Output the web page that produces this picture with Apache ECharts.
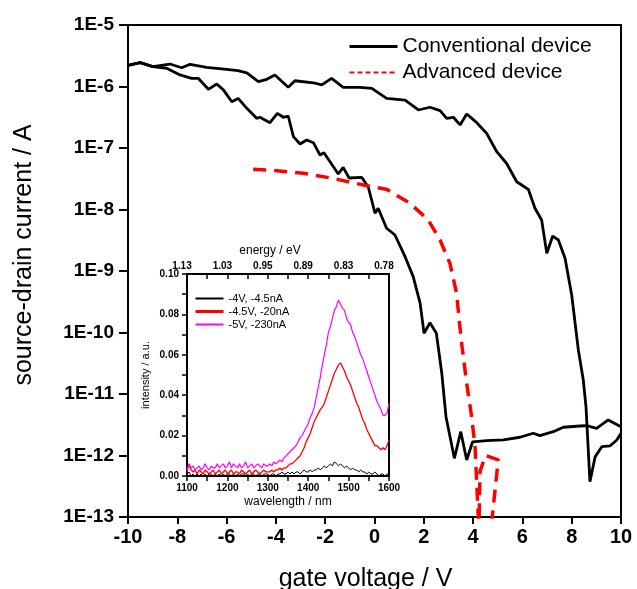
<!DOCTYPE html>
<html><head><meta charset="utf-8">
<script src="https://cdn.jsdelivr.net/npm/echarts@6/dist/echarts.min.js"></script>
<style>html,body{margin:0;padding:0;background:#fff}#c{width:637px;height:589px}</style>
</head><body><div id="c"></div>
<script>
// ---------- main plot: transfer curves ----------
const convRightV = [-10,-9.51,-8.99,-8.30,-7.82,-7.48,-6.81,-6.0,-5.54,-5.18,-4.71,-4.37,-4.04,-3.50,-3.23,-2.48,-2.14,-1.74,-1.27,-0.59,-0.11,0.49,1.24,1.78,2.25,2.66,2.93,3.20,3.47,3.74,4.15,4.55,4.96,5.36,5.77,6.24,6.51,6.78,6.99,7.23,7.46,7.73,8.0,8.27,8.47,8.58,8.74,8.95,9.22,9.55,9.83,10];
const convRightI = [2.2e-6,2.44e-6,2.1e-6,2.32e-6,2.02e-6,2.3e-6,2.05e-6,1.9e-6,1.81e-6,1.67e-6,1.2e-6,1.31e-6,1.54e-6,9.7e-7,1.24e-6,1.15e-6,1.06e-6,1.36e-6,9.7e-7,9.7e-7,9.35e-7,6.4e-7,6.0e-7,4.15e-7,4.6e-7,4.05e-7,3.04e-7,3.16e-7,2.37e-7,3.57e-7,2.58e-7,1.73e-7,8.7e-8,5.6e-8,2.83e-8,2.13e-8,1.05e-8,6.75e-9,1.94e-9,3.7e-9,3.19e-9,1.61e-9,4.07e-10,5.2e-11,1.69e-11,6.2e-12,3.75e-13,9.5e-13,1.39e-12,1.43e-12,1.79e-12,2.29e-12];
const convLeftV = [-10,-9.51,-8.99,-8.43,-7.89,-7.42,-7.15,-6.74,-6.40,-6.13,-5.79,-5.53,-5.18,-4.78,-4.65,-4.24,-3.94,-3.70,-3.50,-3.29,-3.02,-2.75,-2.48,-2.21,-2.05,-1.47,-1.27,-1.03,-0.52,-0.25,0.02,0.15,0.49,0.83,1.24,1.57,1.85,2.01,2.25,2.51,2.73,2.90,3.24,3.50,3.74,3.98,4.55,5.23,5.90,6.44,6.71,7.25,7.66,8.34,8.61,9.01,9.48,10];
const convLeftI = [2.2e-6,2.44e-6,2.1e-6,1.98e-6,1.54e-6,1.36e-6,1.36e-6,9.0e-7,1.1e-6,8.8e-7,5.66e-7,6.4e-7,4.42e-7,3.04e-7,3.16e-7,2.58e-7,3.66e-7,3.16e-7,3.31e-7,1.53e-7,1.16e-7,1.35e-7,1.22e-7,7.7e-8,8.4e-8,3.78e-8,4.85e-8,3.25e-8,3.34e-8,2.3e-8,8.7e-9,1.05e-8,4.95e-9,3.85e-9,1.71e-9,8.1e-10,3.0e-10,9.7e-11,1.44e-10,9.7e-11,2.17e-11,4.28e-12,9.0e-13,2.44e-12,8.45e-13,1.67e-12,1.74e-12,1.79e-12,1.98e-12,2.3e-12,2.1e-12,2.44e-12,2.88e-12,3.02e-12,3.05e-12,2.77e-12,3.78e-12,2.94e-12];
const advV = [-4.92,-3.97,-2.89,-1.67,-0.45,0.49,1.44,2.18,2.66,3.06,3.33,3.45,3.55,3.74,3.94,4.08,4.20,4.24,4.28,4.50,5.02,4.75,4.70];
const advI = [4.5e-8,4.27e-8,3.88e-8,3.2e-8,2.5e-8,2.13e-8,1.26e-8,6.75e-9,3.19e-9,1.33e-9,4.34e-10,1.4e-10,6e-11,1.49e-11,4.28e-12,1.39e-12,1.2e-13,8e-14,5.5e-13,1.0e-12,8.5e-13,8e-14,1e-14];
const xTicks = [-10,-8,-6,-4,-2,0,2,4,6,8,10];

// ---------- inset: EL spectra ----------
const wavelength = [1100,1105,1110,1115,1120,1125,1130,1135,1140,1145,1150,1155,1160,1165,1170,1175,1180,1185,1190,1195,1200,1205,1210,1215,1220,1225,1230,1235,1240,1245,1250,1255,1260,1265,1270,1275,1280,1285,1290,1295,1300,1305,1310,1315,1320,1325,1330,1335,1340,1345,1350,1355,1360,1365,1370,1375,1380,1385,1390,1395,1400,1405,1410,1415,1420,1425,1430,1435,1440,1445,1450,1455,1460,1465,1470,1475,1480,1485,1490,1495,1500,1505,1510,1515,1520,1525,1530,1535,1540,1545,1550,1555,1560,1565,1570,1575,1580,1585,1590,1595,1600];
const int4V = [.001,.002,0,.001,0,.001,0,.001,0,.001, 0,.001,.001,0,.001,0,.001,0,.001,0, .001,.001,0,.001,0,.001,0,.001,.001,0, .001,0,.001,.001,0,.001,.001,0,.001,.001,
  .001,0,.001,.001,0,.001,.001,.002,.001,.001, .002,.001,.002,.001,.002,.002,.001,.002,.003,.002,
  .002,.003,.002,.003,.003,.004,.003,.004,.005,.004, .005,.006,.005,.007,.006,.005,.006,.005,.004,.005,
  .004,.003,.004,.003,.003,.002,.003,.002,.002,.001, .002,.001,.001,.002,.001,0,.001,.001,0,.001, .001];
const int45V = [.002,.006,.003,.002,.003,.001,.003,.002,.001,.003, .002,.001,.002,.003,.001,.002,.003,.001,.002,.003, .001,.002,.003,.001,.002,.002,.001,.003,.002,.001, .002,.003,.001,.002,.003,.002,.001,.002,.003,.002,
  .002,.002,.003,.002,.003,.003,.004,.003,.004,.004, .005,.006,.006,.007,.008,.009,.010,.012,.014,.017,
  .019,.021,.024,.027,.029,.031,.033,.034,.036,.039, .042,.045,.048,.051,.053,.055,.056,.054,.052,.049,
  .047,.045,.042,.039,.036,.034,.031,.028,.026,.023, .021,.019,.017,.015,.015,.014,.013,.014,.013,.015, .018];
const int5V = [.003,.006,.004,.005,.003,.004,.005,.003,.004,.006, .004,.003,.005,.004,.004,.006,.004,.005,.006,.004, .005,.007,.004,.006,.005,.004,.006,.004,.005,.007, .004,.005,.006,.004,.005,.006,.005,.004,.006,.005,
  .005,.006,.005,.007,.006,.007,.008,.007,.009,.010, .011,.012,.013,.014,.015,.017,.019,.020,.022,.024,
  .026,.029,.031,.034,.039,.044,.049,.055,.060,.065, .071,.074,.078,.082,.084,.087,.085,.083,.082,.078,
  .076,.075,.071,.069,.066,.063,.060,.058,.055,.052, .049,.046,.043,.040,.037,.035,.033,.030,.030,.031, .036];
const energyLabels = ['1.13','1.03','0.95','0.89','0.83','0.78'];
const insetNames = ['-4V, -4.5nA','-4.5V, -20nA','-5V, -230nA'];

const F = 'Arial, "Liberation Sans", sans-serif';
const pairs = (xs, ys) => xs.map((x, i) => [x, ys[i]]);
const chart = echarts.init(document.getElementById('c'));

chart.setOption({
  animation: false,
  backgroundColor: '#fff',
  grid: [
    {left: 128, top: 25, width: 493, height: 492, show: true, borderColor: '#000', borderWidth: 2,
     containLabel: false, outerBoundsMode: 'none'},
    {left: 187, top: 274, width: 202, height: 202, show: true, borderColor: '#000', borderWidth: 2,
     containLabel: false, outerBoundsMode: 'none'}
  ],
  legend: [
    {data: [{name: 'Conventional device', lineStyle: {width: 3}},
            {name: 'Advanced device', lineStyle: {width: 2, type: [5, 3]}}],
     orient: 'vertical', left: 343, top: 31, itemWidth: 48, itemHeight: 14, itemGap: 5,
     itemStyle: {opacity: 0},
     textStyle: {fontSize: 21, color: '#000', fontFamily: F}},
    {data: [{name: insetNames[0]}, {name: insetNames[1], lineStyle: {width: 3}}, {name: insetNames[2]}],
     orient: 'vertical', left: 189, top: 288, itemWidth: 28, itemHeight: 10, itemGap: 2,
     itemStyle: {opacity: 0},
     textStyle: {fontSize: 11, color: '#000', fontFamily: F}}
  ],
  xAxis: [
    {gridIndex: 0, type: 'value', min: xTicks[0], max: xTicks[xTicks.length - 1], interval: 2,
     axisLine: {onZero: false, lineStyle: {color: '#000', width: 2}},
     axisTick: {length: 7, lineStyle: {color: '#000', width: 2}},
     axisLabel: {fontSize: 20, fontWeight: 'bold', color: '#000', fontFamily: F, margin: 10},
     splitLine: {show: false},
     name: 'gate voltage / V', nameLocation: 'middle', nameGap: 50,
     nameTextStyle: {fontSize: 25, color: '#000', fontFamily: F, padding: [0, 18, 0, 0]}},
    {gridIndex: 1, type: 'value', min: 1100, max: 1600, interval: 100,
     axisLine: {onZero: false, lineStyle: {color: '#000', width: 2}},
     axisTick: {length: 5, lineStyle: {color: '#000', width: 1.5}},
     minorTick: {show: true, splitNumber: 2, length: 5, lineStyle: {color: '#000', width: 1.5}},
     axisLabel: {fontSize: 10, fontWeight: 'bold', color: '#000', fontFamily: F, margin: 7,
                 formatter: v => String(v)},
     splitLine: {show: false},
     name: 'wavelength / nm', nameLocation: 'middle', nameGap: 20,
     nameTextStyle: {fontSize: 12, color: '#000', fontFamily: F}},
    {gridIndex: 1, type: 'value', position: 'top', min: 1100, max: 1600, interval: 100,
     axisLine: {onZero: false, lineStyle: {color: '#000', width: 2}},
     axisTick: {inside: true, length: 5, lineStyle: {color: '#000', width: 1.5}},
     minorTick: {show: true, splitNumber: 2, length: 5, lineStyle: {color: '#000', width: 1.5}},
     axisLabel: {fontSize: 10, fontWeight: 'bold', color: '#000', fontFamily: F, margin: 3,
                 padding: [0, 10, 0, 0],
                 formatter: v => energyLabels[Math.round((v - 1100) / 100)]},
     splitLine: {show: false},
     name: 'energy / eV', nameLocation: 'middle', nameGap: 17,
     nameTextStyle: {fontSize: 12, color: '#000', fontFamily: F, padding: [0, 36, 0, 0]}}
  ],
  yAxis: [
    {gridIndex: 0, type: 'log', logBase: 10, min: 1e-13, max: 1e-5, interval: 1,
     axisLine: {onZero: false, lineStyle: {color: '#000', width: 2}},
     axisTick: {length: 9, lineStyle: {color: '#000', width: 2}},
     axisLabel: {fontSize: 19, fontWeight: 'bold', color: '#000', fontFamily: F, margin: 14,
                 formatter: v => '1E' + Math.round(Math.log10(v))},
     splitLine: {show: false},
     name: 'source-drain current / A', nameLocation: 'middle', nameGap: 91,
     nameTextStyle: {fontSize: 25, color: '#000', fontFamily: F, padding: [0, 0, 0, 32]}},
    {gridIndex: 1, type: 'value', min: 0, max: 0.1, interval: 0.02,
     axisLine: {onZero: false, lineStyle: {color: '#000', width: 2}},
     axisTick: {length: 5, lineStyle: {color: '#000', width: 1.5}},
     minorTick: {show: true, splitNumber: 2, length: 5, lineStyle: {color: '#000', width: 1.5}},
     axisLabel: {fontSize: 10, fontWeight: 'bold', color: '#000', fontFamily: F, margin: 8,
                 formatter: v => v.toFixed(2)},
     splitLine: {show: false},
     name: 'intensity / a.u.', nameLocation: 'middle', nameGap: 36,
     nameTextStyle: {fontSize: 11, color: '#000', fontFamily: F}}
  ],
  series: [
    {type: 'line', name: 'Conventional device', xAxisIndex: 0, yAxisIndex: 0, symbol: 'none',
     data: pairs(convRightV, convRightI), lineStyle: {color: '#000', width: 2.8}, itemStyle: {color: '#000'}},
    {type: 'line', name: 'Conventional device', xAxisIndex: 0, yAxisIndex: 0, symbol: 'none',
     data: pairs(convLeftV, convLeftI), lineStyle: {color: '#000', width: 2.8}, itemStyle: {color: '#000'}},
    {type: 'line', name: 'Advanced device', xAxisIndex: 0, yAxisIndex: 0, symbol: 'none',
     data: pairs(advV, advI), lineStyle: {color: '#ff0000', width: 3.5, type: [13, 8]}, itemStyle: {color: '#ff0000'}},
    {type: 'line', name: insetNames[0], xAxisIndex: 1, yAxisIndex: 1, symbol: 'none',
     data: pairs(wavelength, int4V), lineStyle: {color: '#000', width: 1}, itemStyle: {color: '#000'}},
    {type: 'line', name: insetNames[1], xAxisIndex: 1, yAxisIndex: 1, symbol: 'none',
     data: pairs(wavelength, int45V), lineStyle: {color: '#ff0000', width: 1.3}, itemStyle: {color: '#ff0000'}},
    {type: 'line', name: insetNames[2], xAxisIndex: 1, yAxisIndex: 1, symbol: 'none',
     data: pairs(wavelength, int5V), lineStyle: {color: '#ff00ff', width: 1.2}, itemStyle: {color: '#ff00ff'}}
  ]
});
</script></body></html>
